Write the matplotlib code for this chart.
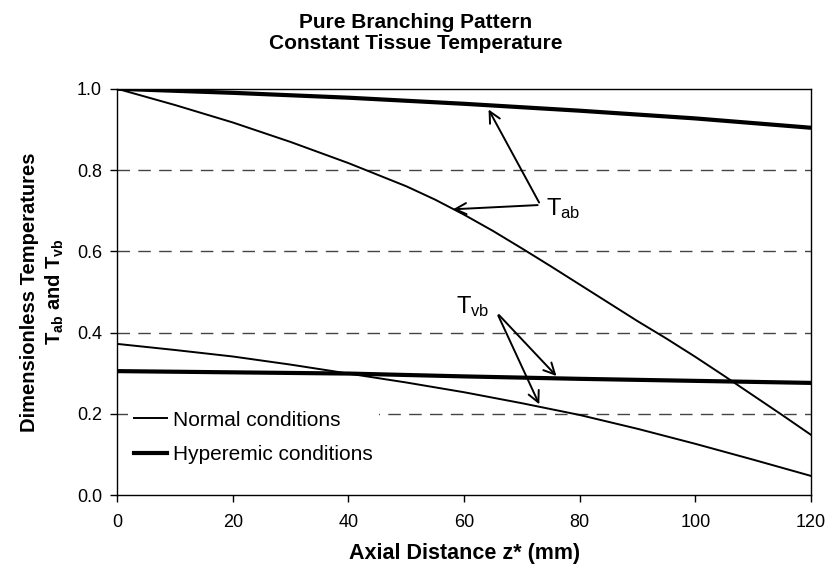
import numpy as np
import matplotlib
matplotlib.use("Agg")
import matplotlib.pyplot as plt

plt.rcParams['font.family'] = ['Liberation Sans', 'DejaVu Sans']
plt.rcParams['mathtext.fontset'] = 'custom'
plt.rcParams['mathtext.rm'] = 'Liberation Sans'
plt.rcParams['mathtext.bf'] = 'Liberation Sans:bold'
plt.rcParams['mathtext.it'] = 'Liberation Sans:italic'

# data
z_tab_n = [0, 10, 20, 30, 40, 50, 55, 60, 65, 70, 75, 80, 85, 90, 95, 100, 105, 110, 115, 120]
tab_normal = [1.000, 0.960, 0.917, 0.869, 0.817, 0.760, 0.727, 0.690, 0.650, 0.607,
              0.563, 0.518, 0.473, 0.428, 0.385, 0.340, 0.293, 0.245, 0.197, 0.148]

z_tab_h = [0, 20, 40, 60, 80, 100, 120]
tab_hyper = [1.0, 0.99, 0.978, 0.963, 0.946, 0.927, 0.904]

z_tvb_n = [0, 10, 20, 30, 40, 50, 60, 70, 80, 90, 100, 110, 120]
tvb_normal = [0.372, 0.357, 0.341, 0.321, 0.299, 0.277, 0.253, 0.226, 0.197, 0.163, 0.126, 0.087, 0.047]

z_tvb_h = [0, 40, 60, 80, 100, 120]
tvb_hyper = [0.305, 0.299, 0.292, 0.286, 0.281, 0.276]

grid_levels = [0.2, 0.4, 0.6, 0.8]

fig = plt.figure(figsize=(8.31, 5.69), dpi=100, facecolor='white')
ax = fig.add_axes([0.141, 0.130, 0.835, 0.714])

for g in grid_levels:
    ax.axhline(g, color='#444444', lw=1.0, ls=(0, (9, 6)), zorder=1)

ax.plot(z_tab_n, tab_normal, color='black', lw=1.4, label='Normal conditions', zorder=3)
ax.plot(z_tvb_n, tvb_normal, color='black', lw=1.4, zorder=3)
ax.plot(z_tab_h, tab_hyper, color='black', lw=3.0, label='Hyperemic conditions', zorder=3)
ax.plot(z_tvb_h, tvb_hyper, color='black', lw=3.0, zorder=3)

ax.set_xlim(0, 120)
ax.set_ylim(0, 1.0)
ax.set_xticks(np.arange(0, 121, 20))
ax.set_yticks(np.arange(0, 1.01, 0.2))
ax.set_yticklabels(['0.0', '0.2', '0.4', '0.6', '0.8', '1.0'])
ax.tick_params(direction='out', length=5, width=1, labelsize=13)
ax.tick_params(axis='x', pad=9)
ax.tick_params(axis='y', pad=6)
for s in ax.spines.values():
    s.set_linewidth(1.0)

ax.set_xlabel('Axial Distance z* (mm)', fontsize=15.5, fontweight='bold', labelpad=8)
ax.set_ylabel('Dimensionless Temperatures\n' + r'$\mathbf{T_{ab}}$ and $\mathbf{T_{vb}}$',
              fontsize=14.5, fontweight='bold', labelpad=8, linespacing=1.25)
fig.suptitle('Pure Branching Pattern\nConstant Tissue Temperature', fontsize=15,
             fontweight='bold', y=0.978, linespacing=1.15)

arrow = dict(arrowstyle='->', color='black', lw=1.4, mutation_scale=20)
ax.annotate('', xy=(64.0, 0.955), xytext=(73.2, 0.714), arrowprops=arrow)
ax.annotate('', xy=(57.6, 0.703), xytext=(73.2, 0.714), arrowprops=arrow)
ax.text(74.2, 0.705, r'$\mathrm{T}_{\mathrm{ab}}$', fontsize=17, va='center', ha='left')

ax.annotate('', xy=(76.3, 0.288), xytext=(65.7, 0.448), arrowprops=arrow)
ax.annotate('', xy=(73.2, 0.217), xytext=(65.7, 0.448), arrowprops=arrow)
ax.text(58.6, 0.463, r'$\mathrm{T}_{\mathrm{vb}}$', fontsize=17, va='center', ha='left')

leg = ax.legend(loc='lower left', bbox_to_anchor=(0.0, 0.035), frameon=True, fontsize=15,
                handlelength=1.6, handletextpad=0.3, labelspacing=0.75, borderpad=0.3)
leg.get_frame().set_edgecolor('none')
leg.get_frame().set_facecolor('white')
leg.get_frame().set_alpha(1.0)
leg.set_zorder(2)

fig.savefig('out.png', dpi=100)
